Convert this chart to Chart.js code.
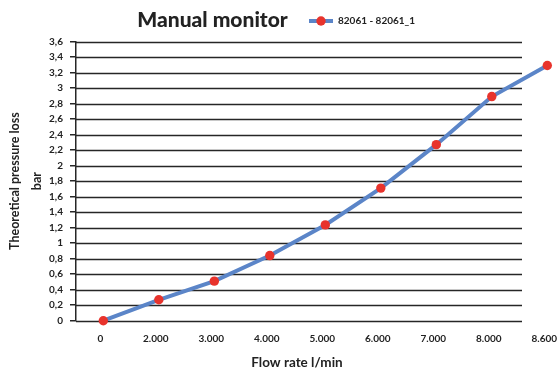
<!DOCTYPE html>
<html>
<head>
<meta charset="utf-8">
<script src="https://cdn.jsdelivr.net/npm/chart.js@4/dist/chart.umd.min.js"></script>
<style>
  html, body { margin: 0; padding: 0; background: #ffffff; }
  #wrap { width: 559px; height: 372px; position: relative; }
</style>
</head>
<body>
<div id="wrap"><canvas id="c" width="559" height="372"></canvas></div>
<script>
const chartTitle = 'Manual monitor';
const seriesLabel = '82061 - 82061_1';
const xTitle = 'Flow rate l/min';
const yTitle = ['Theoretical pressure loss', 'bar'];
const categories = ['0', '2.000', '3.000', '4.000', '5.000', '6.000', '7.000', '8.000', '8.600'];
const pressure = [0, 0.27, 0.51, 0.84, 1.235, 1.71, 2.27, 2.89, 3.29];
const yTickLabels = ['0', '0,2', '0,4', '0,6', '0,8', '1', '1,2', '1,4', '1,6', '1,8', '2', '2,2', '2,4', '2,6', '2,8', '3', '3,2', '3,4', '3,6'];

const LINE_COLOR = '#5b85c8';
const POINT_COLOR = '#e8332c';
const GRID_COLOR = '#262626';
const FONT = 'Lato, "Open Sans", sans-serif';
const GRID_RIGHT = 522;

const decor = {
  id: 'decor',
  beforeDatasetsDraw(chart) {
    const ctx = chart.ctx;
    const y = chart.scales.y;
    const left = chart.chartArea.left;
    ctx.save();
    ctx.strokeStyle = GRID_COLOR;
    ctx.lineWidth = 1.5;
    y.ticks.forEach(t => {
      const py = Math.round(y.getPixelForValue(t.value)) + 0.5;
      ctx.beginPath();
      ctx.moveTo(left, py);
      ctx.lineTo(GRID_RIGHT, py);
      ctx.stroke();
    });
    ctx.restore();
  },
  afterDraw(chart) {
    const ctx = chart.ctx;
    ctx.save();
    ctx.fillStyle = '#222222';
    ctx.textBaseline = 'middle';
    ctx.textAlign = 'center';
    ctx.font = '900 21px ' + FONT;
    ctx.fillText(chartTitle, 212.5, 20);
    // legend
    ctx.strokeStyle = LINE_COLOR;
    ctx.lineWidth = 4;
    ctx.beginPath();
    ctx.moveTo(309, 21);
    ctx.lineTo(333, 21);
    ctx.stroke();
    ctx.fillStyle = POINT_COLOR;
    ctx.beginPath();
    ctx.arc(321, 21, 4.7, 0, Math.PI * 2);
    ctx.fill();
    ctx.fillStyle = '#222222';
    ctx.textAlign = 'left';
    ctx.font = 'bold 10px ' + FONT;
    ctx.fillText(seriesLabel, 338, 21);
    // x title
    ctx.textAlign = 'center';
    ctx.font = 'bold 13.5px ' + FONT;
    ctx.fillText(xTitle, 297, 363);
    ctx.restore();
  }
};

new Chart(document.getElementById('c'), {
  type: 'line',
  data: {
    datasets: [{
      label: seriesLabel,
      data: pressure.map((v, i) => ({ x: i, y: v })),
      borderColor: LINE_COLOR,
      backgroundColor: POINT_COLOR,
      borderWidth: 4,
      pointRadius: 4.7,
      pointBorderWidth: 0,
      pointBackgroundColor: POINT_COLOR,
      pointHoverRadius: 4.7,
      tension: 0,
      clip: false
    }]
  },
  options: {
    responsive: false,
    animation: false,
    events: [],
    layout: { padding: { top: 41.5, right: 0, left: 0, bottom: 0 } },
    plugins: { legend: { display: false }, title: { display: false }, tooltip: { enabled: false } },
    scales: {
      x: {
        type: 'linear',
        min: -0.492,
        max: 8.126,
        afterFit(scale) { scale.height = 51.3; scale.paddingLeft = 0; scale.paddingRight = 0; },
        afterBuildTicks(scale) { scale.ticks = categories.map((c, i) => ({ value: i })); },
        grid: { display: false, drawTicks: false },
        border: { display: false },
        ticks: {
          autoSkip: false,
          maxRotation: 0,
          padding: 12,
          labelOffset: -3,
          color: '#222222',
          font: { family: FONT, size: 10, weight: 'bold' },
          callback: (v) => categories[Math.round(v)]
        }
      },
      y: {
        min: 0,
        max: 3.6,
        afterFit(scale) { scale.width = 76; scale.paddingTop = 0; scale.paddingBottom = 0; },
        ticks: {
          stepSize: 0.2,
          padding: 7,
          color: '#222222',
          font: { family: FONT, size: 10, weight: 'bold' },
          callback: (v) => yTickLabels[Math.round(v / 0.2)]
        },
        grid: { drawOnChartArea: false, drawTicks: true, tickLength: 6, color: GRID_COLOR, lineWidth: 1.5 },
        border: { display: true, color: GRID_COLOR, width: 1.5 },
        title: {
          display: true,
          text: yTitle,
          color: '#222222',
          font: { family: FONT, size: 12.5, weight: 'bold', lineHeight: 1.75 },
          padding: { top: 4, bottom: 0 }
        }
      }
    }
  },
  plugins: [decor]
});
</script>
</body>
</html>
